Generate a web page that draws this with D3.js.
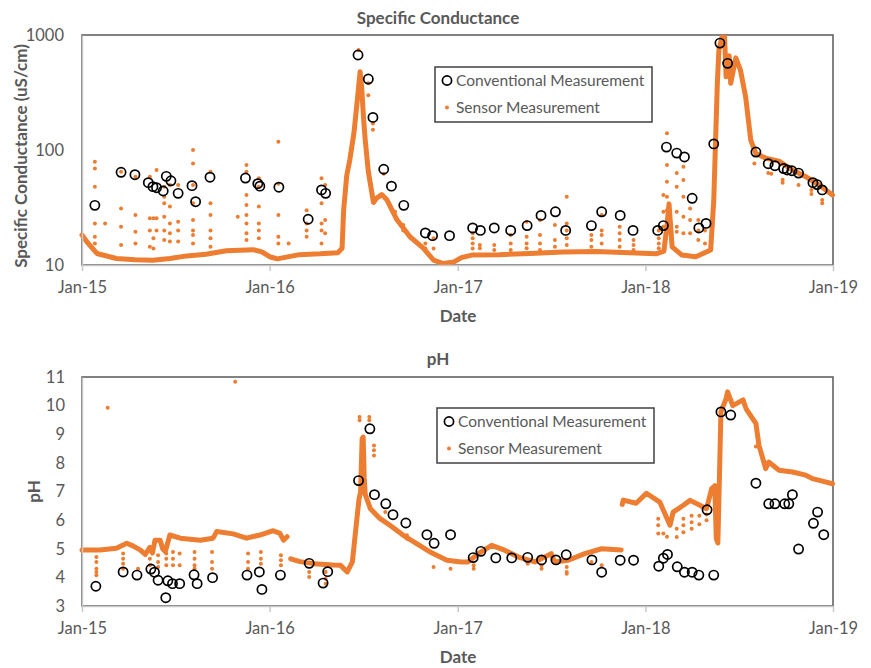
<!DOCTYPE html>
<meta charset="utf-8">
<script src="https://d3js.org/d3.v7.min.js"></script>
<style>
  body { margin: 0; background: #fff; }
  text { font-family: Lato, "Open Sans", sans-serif; fill: #595959; }
  .title { font-weight: bold; font-size: 17px; }
  .tick text { font-size: 16.5px; fill: #595959; }
  .legend text { font-size: 15.5px; }
</style>
<div id="chart"></div>
<script>

  // ---- data ----
  const yearTicks = ["2015-01-01", "2016-01-01", "2017-01-01", "2018-01-01", "2019-01-01"];
  const scTicks = [10, 100, 1000];
  const phTicks = [3, 4, 5, 6, 7, 8, 9, 10, 11];

  // specific conductance, conventional (lab) samples
  const scConventional = [
    ["2015-01-26", 33], ["2015-03-18", 64], ["2015-04-14", 61], ["2015-05-10", 52], ["2015-05-19", 48],
    ["2015-05-26", 47], ["2015-06-08", 44], ["2015-06-14", 59], ["2015-06-23", 54], ["2015-07-07", 42],
    ["2015-08-03", 49], ["2015-08-10", 35.5], ["2015-09-07", 58], ["2015-11-15", 57], ["2015-12-09", 51],
    ["2015-12-13", 48.5], ["2016-01-19", 47.5], ["2016-03-16", 25], ["2016-04-11", 45], ["2016-04-19", 42],
    ["2016-06-21", 670], ["2016-07-11", 414], ["2016-07-20", 192], ["2016-08-10", 68], ["2016-08-25", 48.5],
    ["2016-09-18", 33], ["2016-10-30", 19], ["2016-11-13", 18], ["2016-12-16", 18], ["2017-01-30", 21],
    ["2017-02-14", 20], ["2017-03-13", 21], ["2017-04-14", 20], ["2017-05-16", 22], ["2017-06-12", 27],
    ["2017-07-10", 29], ["2017-07-30", 20], ["2017-09-18", 22], ["2017-10-08", 29], ["2017-11-13", 27],
    ["2017-12-08", 20], ["2018-01-25", 20], ["2018-02-05", 22], ["2018-02-11", 106], ["2018-03-03", 94],
    ["2018-03-18", 87], ["2018-04-02", 38], ["2018-04-15", 21], ["2018-04-29", 23], ["2018-05-14", 113],
    ["2018-05-26", 850], ["2018-06-10", 567], ["2018-08-04", 96], ["2018-08-28", 76], ["2018-09-10", 73],
    ["2018-09-27", 69], ["2018-10-04", 67], ["2018-10-13", 66], ["2018-10-26", 63], ["2018-11-23", 52],
    ["2018-12-01", 50], ["2018-12-11", 45]
  ];

  // specific conductance, continuous sensor record
  const scSensor = [
    ["2015-01-01", 18.2], ["2015-01-13", 15.4], ["2015-01-30", 12.6], ["2015-03-09", 11.4], ["2015-04-14", 11.1],
    ["2015-05-19", 11.0], ["2015-06-21", 11.4], ["2015-07-24", 12.0], ["2015-08-30", 12.4], ["2015-10-09", 13.3],
    ["2015-11-30", 13.6], ["2015-12-17", 13.0], ["2016-01-01", 11.8], ["2016-01-16", 11.3], ["2016-02-28", 12.3],
    ["2016-04-08", 12.5], ["2016-05-13", 12.8], ["2016-05-21", 14], ["2016-05-24", 30], ["2016-05-30", 60],
    ["2016-06-05", 82], ["2016-06-13", 140], ["2016-06-19", 255], ["2016-06-25", 480], ["2016-06-28", 355],
    ["2016-07-02", 182], ["2016-07-05", 122], ["2016-07-11", 65], ["2016-07-21", 35], ["2016-07-27", 38],
    ["2016-08-06", 41], ["2016-08-16", 37], ["2016-09-04", 25], ["2016-09-30", 17.6], ["2016-10-26", 14],
    ["2016-11-15", 11.0], ["2016-12-04", 10.3], ["2016-12-24", 10.6], ["2017-01-08", 11.6], ["2017-01-28", 12.2],
    ["2017-03-23", 12.3], ["2017-05-21", 12.6], ["2017-07-24", 13.0], ["2017-09-28", 13.1], ["2017-12-01", 12.8],
    ["2018-01-22", 12.5], ["2018-02-06", 13.2], ["2018-02-12", 22], ["2018-02-16", 34], ["2018-02-22", 14.4],
    ["2018-03-13", 12.2], ["2018-04-09", 11.8], ["2018-05-08", 13.5], ["2018-05-14", 36], ["2018-05-18", 140],
    ["2018-05-21", 380], ["2018-05-24", 740], ["2018-05-31", 1000], ["2018-06-04", 1000], ["2018-06-07", 433],
    ["2018-06-13", 660], ["2018-06-16", 380], ["2018-06-26", 633], ["2018-07-05", 494], ["2018-07-15", 290],
    ["2018-07-25", 122], ["2018-08-04", 93], ["2018-08-23", 85], ["2018-09-18", 80], ["2018-10-14", 67],
    ["2018-11-09", 58.6], ["2018-12-05", 49.6], ["2018-12-31", 40.6]
  ];

  // scattered sensor readings (date, readings)
  const scSensorSpikes = [
    ["2015-01-26", [79, 69, 48, 23, 17.6, 15.4]], ["2015-02-15", [23]], ["2015-03-18", [64.8, 31, 21.5, 14.9]],
    ["2015-04-15", [58.6, 27.2, 19.5, 15.4]], ["2015-05-13", [58.6, 25.5, 20, 14.4]], ["2015-05-20", [25.5, 17.1, 13.9]],
    ["2015-05-26", [67, 25.5, 20]], ["2015-06-10", [48, 39.2, 34.4, 26.3, 20, 16.5]], ["2015-06-21", [49.6, 32.2, 23, 18.9, 16]],
    ["2015-07-07", [49.6, 23.8, 20, 16]], ["2015-08-05", [100, 76.5, 49.6, 34.4, 24.6, 20, 18.2, 15.4]],
    ["2015-09-08", [64.8, 34.4, 27.2, 20, 17.1, 14.4]], ["2015-10-31", [26.3]],
    ["2015-11-17", [74, 64.8, 40.6, 33.2, 27.2, 23, 18.9, 16.5]], ["2015-12-11", [56.8, 48, 32.2, 23, 20, 17.1]],
    ["2016-01-18", [118, 51, 27.2, 17.6, 15.4]], ["2016-02-07", [15.4]], ["2016-03-13", [30, 23, 20, 17.6]],
    ["2016-04-11", [56.8, 34.4, 23, 20, 15.4]], ["2016-04-18", [49.6, 24.6, 18.9]], ["2016-06-22", [740]],
    ["2016-07-11", [380, 300]], ["2016-07-20", [170, 150]], ["2016-08-10", [62]], ["2016-09-01", [29]],
    ["2016-09-17", [22.3, 20]], ["2016-10-30", [15.4, 13.9]], ["2016-11-15", [17.1, 13.9]],
    ["2017-01-30", [18.9, 17.1, 15.4, 13.9]], ["2017-02-13", [14.9, 14]], ["2017-03-13", [14.9, 13.5]],
    ["2017-04-14", [18.2, 15.4, 13.5]], ["2017-05-15", [23.8, 17.6, 15.4, 14]], ["2017-06-10", [24.6, 18.2, 15.4, 13.5]],
    ["2017-07-09", [22.3, 16.5, 14.4]], ["2017-08-01", [39.2, 23, 20, 17.1, 14.9]], ["2017-09-18", [18.2, 16.5, 14.4]],
    ["2017-10-08", [27.2, 20, 18.2, 15.4]], ["2017-11-12", [21.5, 18.9, 16.5, 14.4]], ["2017-12-09", [16.5, 14.9, 13.5]],
    ["2018-01-27", [20, 17.1, 15.4, 14]], ["2018-02-05", [40.6, 29, 21.5]], ["2018-02-12", [140, 74, 53, 39.2, 30, 23.8]],
    ["2018-03-03", [63, 48, 29, 21.5, 19.5]], ["2018-03-16", [71.6, 54.8, 39.2, 26.3, 18.9]], ["2018-03-29", [31, 24.6, 18.9]],
    ["2018-04-14", [24.6, 20, 16.5]], ["2018-04-27", [20, 15.4]], ["2018-08-01", [76.5]], ["2018-08-28", [63]],
    ["2018-09-03", [62]], ["2018-09-25", [55, 52]], ["2018-10-26", [49.6]], ["2018-11-20", [45, 41.5]],
    ["2018-12-11", [36.8, 34.4]]
  ];

  // pH, conventional samples
  const phConventional = [
    ["2015-01-28", 3.69], ["2015-03-22", 4.19], ["2015-04-18", 4.08], ["2015-05-15", 4.29], ["2015-05-22", 4.18],
    ["2015-05-29", 3.9], ["2015-06-13", 3.29], ["2015-06-17", 3.88], ["2015-06-26", 3.78], ["2015-07-10", 3.78],
    ["2015-08-07", 4.09], ["2015-08-13", 3.78], ["2015-09-12", 3.99], ["2015-11-18", 4.08], ["2015-12-12", 4.19],
    ["2015-12-17", 3.58], ["2016-01-22", 4.08], ["2016-03-18", 4.49], ["2016-04-14", 3.8], ["2016-04-23", 4.2],
    ["2016-06-22", 7.38], ["2016-07-14", 9.19], ["2016-07-23", 6.89], ["2016-08-14", 6.57], ["2016-08-28", 6.19],
    ["2016-09-22", 5.9], ["2016-11-02", 5.49], ["2016-11-16", 5.19], ["2016-12-18", 5.49], ["2017-01-31", 4.69],
    ["2017-02-15", 4.91], ["2017-03-16", 4.68], ["2017-04-16", 4.68], ["2017-05-17", 4.7], ["2017-06-13", 4.61],
    ["2017-07-11", 4.61], ["2017-07-31", 4.79], ["2017-09-19", 4.61], ["2017-10-08", 4.18], ["2017-11-13", 4.6],
    ["2017-12-09", 4.6], ["2018-01-27", 4.39], ["2018-02-05", 4.67], ["2018-02-13", 4.8], ["2018-03-04", 4.37],
    ["2018-03-18", 4.18], ["2018-04-02", 4.18], ["2018-04-15", 4.08], ["2018-05-01", 6.36], ["2018-05-14", 4.08],
    ["2018-05-28", 9.78], ["2018-06-16", 9.67], ["2018-08-04", 7.29], ["2018-08-29", 6.57], ["2018-09-10", 6.57],
    ["2018-09-29", 6.57], ["2018-10-07", 6.57], ["2018-10-14", 6.89], ["2018-10-26", 4.99], ["2018-11-24", 5.89],
    ["2018-12-02", 6.28], ["2018-12-14", 5.49]
  ];

  // pH, continuous sensor record (null = gap in the record)
  const phSensor = [
    ["2015-01-01", 4.96], ["2015-02-05", 4.96], ["2015-03-09", 5.02], ["2015-03-29", 5.19], ["2015-04-10", 5.1],
    ["2015-04-24", 4.96], ["2015-05-04", 4.8], ["2015-05-13", 5.05], ["2015-05-18", 4.85], ["2015-05-23", 5.3],
    ["2015-06-02", 5.3], ["2015-06-07", 5.0], ["2015-06-12", 4.9], ["2015-06-21", 5.48], ["2015-07-11", 5.37],
    ["2015-08-19", 5.3], ["2015-09-13", 5.37], ["2015-09-20", 5.6], ["2015-10-22", 5.52], ["2015-11-17", 5.37],
    ["2015-12-13", 5.48], ["2016-01-08", 5.63], ["2016-01-21", 5.54], ["2016-01-28", 5.3], ["2016-02-04", 5.42],
    ["2016-02-08", null],
    ["2016-02-11", 4.65], ["2016-02-29", 4.55], ["2016-03-27", 4.48], ["2016-05-03", 4.43], ["2016-05-18", 4.42],
    ["2016-05-31", 4.19], ["2016-06-10", 4.54], ["2016-06-16", 5.58], ["2016-06-23", 6.75], ["2016-06-26", 6.98],
    ["2016-06-29", 8.85], ["2016-07-01", 8.9], ["2016-07-03", 7.5], ["2016-07-05", 6.9], ["2016-07-15", 6.4],
    ["2016-08-03", 6.05], ["2016-08-22", 5.82], ["2016-09-17", 5.47], ["2016-10-13", 5.18], ["2016-11-08", 4.89],
    ["2016-12-11", 4.6], ["2017-01-08", 4.54], ["2017-01-21", 4.54], ["2017-02-10", 4.83], ["2017-03-08", 5.12],
    ["2017-04-02", 4.95], ["2017-04-29", 4.71], ["2017-05-31", 4.54], ["2017-07-02", 4.83], ["2017-07-08", 4.54],
    ["2017-08-04", 4.6], ["2017-09-05", 4.83], ["2017-10-08", 5.0], ["2017-11-15", 4.96], ["2017-11-16", null],
    ["2017-11-17", 6.55], ["2017-11-19", 6.7], ["2017-12-14", 6.59], ["2018-01-03", 6.94], ["2018-01-29", 6.63],
    ["2018-02-18", 5.82], ["2018-02-24", 6.28], ["2018-03-16", 6.52], ["2018-03-29", 6.69], ["2018-04-17", 6.52],
    ["2018-04-30", 6.4], ["2018-05-10", 7.1], ["2018-05-16", 7.2], ["2018-05-19", 5.35], ["2018-05-22", 5.2],
    ["2018-05-25", 7.45], ["2018-05-28", 9.78], ["2018-06-07", 10.24], ["2018-06-10", 10.48], ["2018-06-20", 10.0],
    ["2018-07-03", 10.13], ["2018-07-10", 10.2], ["2018-07-16", 9.89], ["2018-07-29", 9.54], ["2018-08-04", 9.38],
    ["2018-08-10", 8.61], ["2018-08-23", 7.8], ["2018-08-29", 8.03], ["2018-09-18", 7.74], ["2018-10-14", 7.68],
    ["2018-11-09", 7.57], ["2018-11-22", 7.45], ["2018-12-19", 7.33], ["2018-12-31", 7.27]
  ];

  const phSensorSpikes = [
    ["2015-01-29", [4.71, 4.54, 4.3, 4.19, 4.07]], ["2015-02-20", [9.93]], ["2015-03-22", [4.83, 4.65, 4.48, 4.3]],
    ["2015-04-20", [4.3]], ["2015-05-13", [4.65, 4.42]], ["2015-05-29", [4.77, 4.54, 4.36]],
    ["2015-06-14", [4.83, 4.65, 4.42]], ["2015-06-27", [4.89, 4.65, 4.42]], ["2015-07-10", [4.83, 4.42]],
    ["2015-08-08", [4.89, 4.65, 4.42, 4.3]], ["2015-09-11", [4.89, 4.54, 4.3]], ["2015-10-26", [10.83]],
    ["2015-11-20", [4.83, 4.54, 4.3]], ["2015-12-15", [4.89, 4.65, 4.48]], ["2016-01-23", [4.77, 4.6, 4.42]],
    ["2016-03-18", [4.19, 4.01]], ["2016-04-19", [4.19, 3.95, 3.78]], ["2016-06-24", [9.6, 9.49]],
    ["2016-07-13", [9.6, 9.49]], ["2016-07-22", [8.61, 8.44, 8.26]], ["2016-08-13", [6.28]],
    ["2016-09-24", [5.47, 5.35]], ["2016-11-15", [4.36]], ["2016-12-18", [4.3]], ["2017-02-01", [4.42, 4.3]],
    ["2017-05-17", [4.48]], ["2017-06-13", [4.42, 4.3]], ["2017-08-01", [4.36, 4.19, 4.13]], ["2017-09-18", [4.54]],
    ["2017-10-08", [4.42]], ["2018-01-26", [6.05, 5.82, 5.53]], ["2018-02-05", [5.53]], ["2018-02-12", [5.42]],
    ["2018-03-03", [5.7, 5.41]], ["2018-03-16", [6.05, 5.82, 5.58]], ["2018-04-01", [6.15, 5.93, 5.7]],
    ["2018-04-16", [6.15, 5.86]], ["2018-04-30", [6.2, 6.0]], ["2018-05-19", [6.1, 5.8, 5.5]], ["2018-08-04", [8.57]]
  ];

  // ---- drawing ----
  const orange = "#ED7D31";
  const parse = d3.timeParse("%Y-%m-%d");
  const left = 82, right = 833;

  const svg = d3.select("#chart").append("svg")
    .attr("width", 871)
    .attr("height", 668);

  const x = d3.scaleTime()
    .domain([parse(yearTicks[0]), parse(yearTicks[yearTicks.length - 1])])
    .range([left, right]);

  function drawPanel(opt) {
    const y = opt.y;
    const top = opt.top, bottom = opt.bottom;
    const g = svg.append("g");

    // plot-area frame (dark), axes drawn over it later
    g.append("rect")
      .attr("x", left).attr("y", top)
      .attr("width", right - left).attr("height", bottom - top)
      .attr("fill", "none").attr("stroke", "#595959").attr("stroke-width", 1.5);

    g.append("clipPath").attr("id", opt.id + "-clip")
      .append("rect")
      .attr("x", left - 4).attr("y", top)
      .attr("width", right - left + 8).attr("height", bottom - top + 6);

    const plot = g.append("g").attr("clip-path", `url(#${opt.id}-clip)`);

    // sensor trace
    const line = d3.line()
      .defined(d => d[1] != null)
      .x(d => x(parse(d[0])))
      .y(d => y(d[1]));

    plot.append("path")
      .datum(opt.sensor)
      .attr("d", line)
      .attr("fill", "none")
      .attr("stroke", orange)
      .attr("stroke-width", 5)
      .attr("stroke-linejoin", "round")
      .attr("stroke-linecap", "round");

    const spikes = opt.spikes.flatMap(d => d[1].map(v => [d[0], v]));
    plot.append("g")
      .selectAll("circle")
      .data(spikes)
      .join("circle")
      .attr("cx", d => x(parse(d[0])))
      .attr("cy", d => y(d[1]))
      .attr("r", 2)
      .attr("fill", orange);

    // conventional samples
    plot.append("g")
      .selectAll("circle")
      .data(opt.conventional)
      .join("circle")
      .attr("cx", d => x(parse(d[0])))
      .attr("cy", d => y(d[1]))
      .attr("r", 4.6)
      .attr("fill", "none")
      .attr("stroke", "#000")
      .attr("stroke-width", 1.7);

    // axes
    const xAxis = g.append("g")
      .attr("transform", `translate(0,${bottom})`)
      .call(d3.axisBottom(x)
        .tickValues(yearTicks.map(parse))
        .tickFormat(d3.timeFormat("%b-%y"))
        .tickSizeInner(6).tickSizeOuter(0).tickPadding(10));
    const yAxis = g.append("g")
      .attr("transform", `translate(${left},0)`)
      .call(d3.axisLeft(y)
        .tickValues(opt.ticks)
        .tickFormat(d3.format("d"))
        .tickSize(0).tickPadding(opt.pad));
    [xAxis, yAxis].forEach(a => {
      a.select(".domain").attr("stroke", "#c8c8c8").attr("stroke-width", 1.5);
      a.selectAll(".tick line").attr("stroke", "#c8c8c8").attr("stroke-width", 1.5);
      a.selectAll(".tick text").attr("font-family", null).attr("font-size", null);
    });

    // titles
    svg.append("text").attr("class", "title")
      .attr("x", 438).attr("y", opt.titleY)
      .attr("text-anchor", "middle")
      .text(opt.title);
    svg.append("text").attr("class", "title")
      .attr("x", 458).attr("y", bottom + 57)
      .attr("text-anchor", "middle")
      .text("Date");
    svg.append("text").attr("class", "title")
      .attr("transform", `translate(${opt.yTitleX},${(top + bottom) / 2 + opt.yTitleShift}) rotate(-90)`)
      .attr("text-anchor", "middle")
      .text(opt.yTitle);

    // legend
    const lg = svg.append("g").attr("class", "legend")
      .attr("transform", `translate(${opt.legend[0]},${opt.legend[1]})`);
    lg.append("rect")
      .attr("width", 217).attr("height", 55)
      .attr("fill", "#fff").attr("stroke", "#404040").attr("stroke-width", 1.5);
    lg.append("circle").attr("cx", 12).attr("cy", 13.5).attr("r", 4.6)
      .attr("fill", "none").attr("stroke", "#000").attr("stroke-width", 1.7);
    lg.append("text").attr("x", 21).attr("y", 19).text("Conventional Measurement");
    lg.append("circle").attr("cx", 12).attr("cy", 40.5).attr("r", 2).attr("fill", orange);
    lg.append("text").attr("x", 21).attr("y", 46).text("Sensor Measurement");
  }

  drawPanel({
    id: "sc", top: 35, bottom: 265,
    y: d3.scaleLog().domain([10, 1000]).range([265, 35]),
    ticks: scTicks, pad: 18,
    sensor: scSensor, spikes: scSensorSpikes, conventional: scConventional,
    title: "Specific Conductance", titleY: 24,
    yTitle: "Specific Conductance (uS/cm)", yTitleX: 27, yTitleShift: 6,
    legend: [435, 67]
  });

  drawPanel({
    id: "ph", top: 377, bottom: 606,
    y: d3.scaleLinear().domain([3, 11]).range([606, 377]),
    ticks: phTicks, pad: 17,
    sensor: phSensor, spikes: phSensorSpikes, conventional: phConventional,
    title: "pH", titleY: 365,
    yTitle: "pH", yTitleX: 40, yTitleShift: 0,
    legend: [437, 408]
  });

</script>
